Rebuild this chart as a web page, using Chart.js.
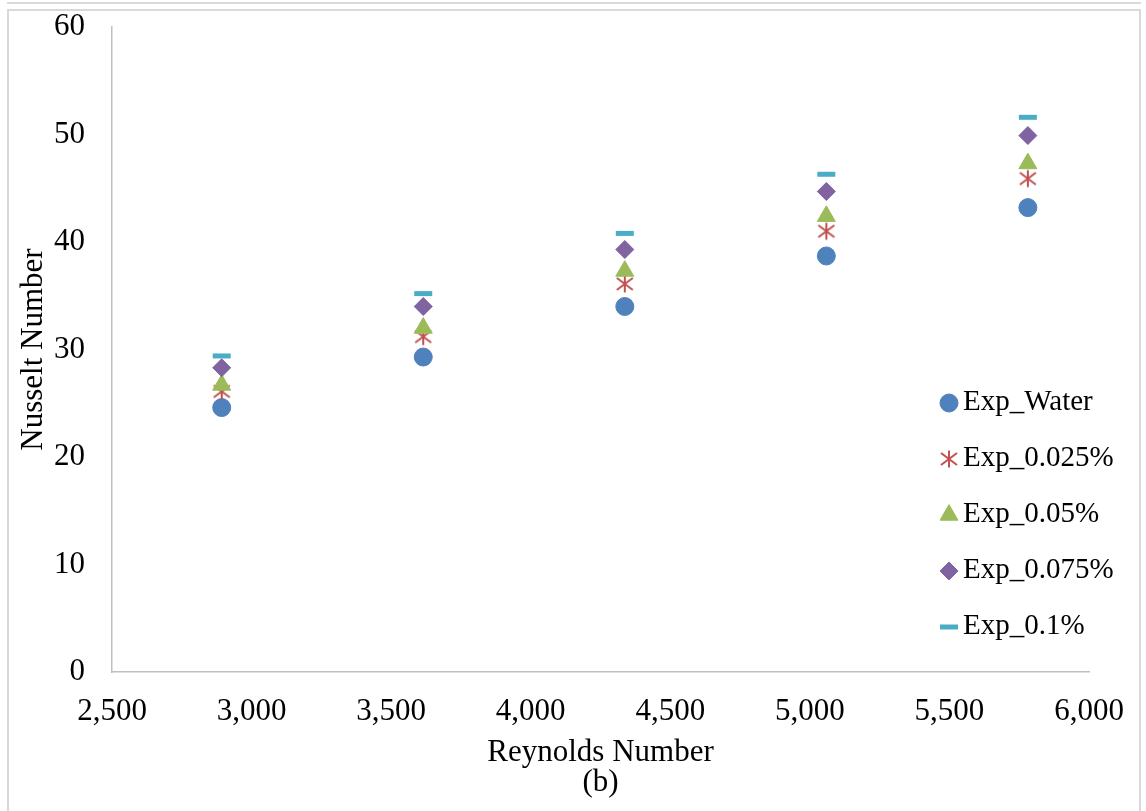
<!DOCTYPE html>
<html>
<head>
<meta charset="utf-8">
<title>Nusselt Number vs Reynolds Number</title>
<script src="https://cdn.jsdelivr.net/npm/chart.js@4.4.1/dist/chart.umd.min.js"></script>
<style>
  html, body { margin: 0; padding: 0; background: #fff; }
  #wrap { position: relative; width: 1146px; height: 811px; }
</style>
</head>
<body>
<div id="wrap"><canvas id="nusseltChart" width="1146" height="811"></canvas></div>
<script>
// values
const reynolds = [2893, 3615, 4337, 5059, 5781];
const nuWater = [24.6, 29.3, 34.0, 38.7, 43.2];
const nu0025 = [26.1, 31.2, 36.1, 41.0, 45.9];
const nu005 = [26.7, 32.0, 37.3, 42.4, 47.3];
const nu0075 = [28.3, 34.0, 39.3, 44.7, 49.9];
const nu01 = [29.4, 35.2, 40.8, 46.3, 51.6];

const seriesLabels = ['Exp_Water', 'Exp_0.025%', 'Exp_0.05%', 'Exp_0.075%', 'Exp_0.1%'];
const xTicks = [2500, 3000, 3500, 4000, 4500, 5000, 5500, 6000];
const yTicks = [0, 10, 20, 30, 40, 50, 60];

const FONT = '"Liberation Serif", "Times New Roman", serif';
const AXIS_GREY = '#bfbfbf';

// legend sits inside the plot, lower right
const LEGEND_X = 949;
const LEGEND_TEXT_X = 963;
const LEGEND_TOP = 403;
const LEGEND_ROW = 56;

function makeAsterisk(color) {
  const c = document.createElement('canvas');
  c.width = 20;
  c.height = 20;
  const g = c.getContext('2d');
  g.strokeStyle = color;
  g.lineWidth = 2;
  g.beginPath();
  g.moveTo(2, 4); g.lineTo(18, 16);
  g.moveTo(18, 4); g.lineTo(2, 16);
  g.moveTo(10, 1.5); g.lineTo(10, 18.5);
  g.stroke();
  return c;
}

function toPoints(ys) {
  return ys.map((y, i) => ({ x: reynolds[i], y }));
}

function createSeries(label, values, color, style, radius, order) {
  return {
    label,
    data: toPoints(values),
    backgroundColor: color,
    borderColor: color,
    borderWidth: style === 'line' ? 5 : 1,
    pointStyle: style,
    pointRadius: radius,
    showLine: false,
    order
  };
}

const framePlugin = {
  id: 'frame',
  beforeDraw(chart) {
    const ctx = chart.ctx;
    ctx.save();
    ctx.strokeStyle = '#d9d9d9';
    ctx.lineWidth = 2;
    ctx.beginPath();
    ctx.moveTo(7, 3); ctx.lineTo(1141, 3);
    ctx.moveTo(8, 815); ctx.lineTo(8, 10); ctx.lineTo(1140, 10); ctx.lineTo(1140, 815);
    ctx.stroke();
    ctx.restore();
  }
};

const insideLegend = {
  id: 'insideLegend',
  afterDatasetsDraw(chart) {
    const ctx = chart.ctx;
    ctx.save();
    chart.data.datasets.forEach((ds, i) => {
      const y = LEGEND_TOP + i * LEGEND_ROW;
      ctx.fillStyle = ds.backgroundColor;
      ctx.strokeStyle = ds.borderColor;
      ctx.lineWidth = ds.borderWidth;
      Chart.helpers.drawPoint(ctx, {
        pointStyle: ds.pointStyle,
        radius: ds.pointRadius,
        borderWidth: ds.borderWidth,
        rotation: 0
      }, LEGEND_X, y);
      ctx.fillStyle = '#000';
      ctx.font = `29px ${FONT}`;
      ctx.textBaseline = 'middle';
      ctx.textAlign = 'left';
      ctx.fillText(ds.label, LEGEND_TEXT_X, y - 1);
    });
    ctx.restore();
  }
};

new Chart(document.getElementById('nusseltChart'), {
  type: 'scatter',
  data: {
    datasets: [
      createSeries(seriesLabels[0], nuWater, '#4f81bd', 'circle', 9, 4),
      createSeries(seriesLabels[1], nu0025, '#c0504d', makeAsterisk('#c0504d'), 9, 3),
      createSeries(seriesLabels[2], nu005, '#9bbb59', 'triangle', 10.4, 2),
      createSeries(seriesLabels[3], nu0075, '#8064a2', 'rectRot', 9, 1),
      createSeries(seriesLabels[4], nu01, '#4bacc6', 'line', 9, 0)
    ]
  },
  options: {
    responsive: false,
    devicePixelRatio: 1,
    animation: false,
    events: [],
    layout: { padding: { top: 27, right: 57, bottom: 0, left: 0 } },
    plugins: {
      legend: { display: false },
      tooltip: { enabled: false }
    },
    scales: {
      x: {
        type: 'linear',
        min: xTicks[0],
        max: xTicks[xTicks.length - 1],
        afterFit: (scale) => { scale.height = 139; },
        ticks: {
          stepSize: xTicks[1] - xTicks[0],
          padding: 13,
          color: '#000',
          maxRotation: 0,
          font: { family: FONT, size: 31 },
          callback: (value) => value.toLocaleString('en-US')
        },
        grid: { display: false },
        border: { display: true, color: AXIS_GREY, width: 1.5 },
        title: {
          display: true,
          text: ['Reynolds Number', '(b)'],
          color: '#000',
          font: { family: FONT, size: 31, lineHeight: 0.97 },
          padding: { top: 0, bottom: 13 }
        }
      },
      y: {
        min: yTicks[0],
        max: yTicks[yTicks.length - 1],
        afterFit: (scale) => {
          scale.width = 112;
          scale.paddingTop = 0;
          scale.paddingBottom = 0;
        },
        ticks: {
          stepSize: yTicks[1] - yTicks[0],
          padding: 19,
          color: '#000',
          font: { family: FONT, size: 31 }
        },
        grid: { display: false },
        border: { display: true, color: AXIS_GREY, width: 1.5 },
        title: {
          display: true,
          text: 'Nusselt Number',
          color: '#000',
          font: { family: FONT, size: 31 },
          padding: { top: 15, bottom: 0 }
        }
      }
    }
  },
  plugins: [framePlugin, insideLegend]
});
</script>
</body>
</html>
